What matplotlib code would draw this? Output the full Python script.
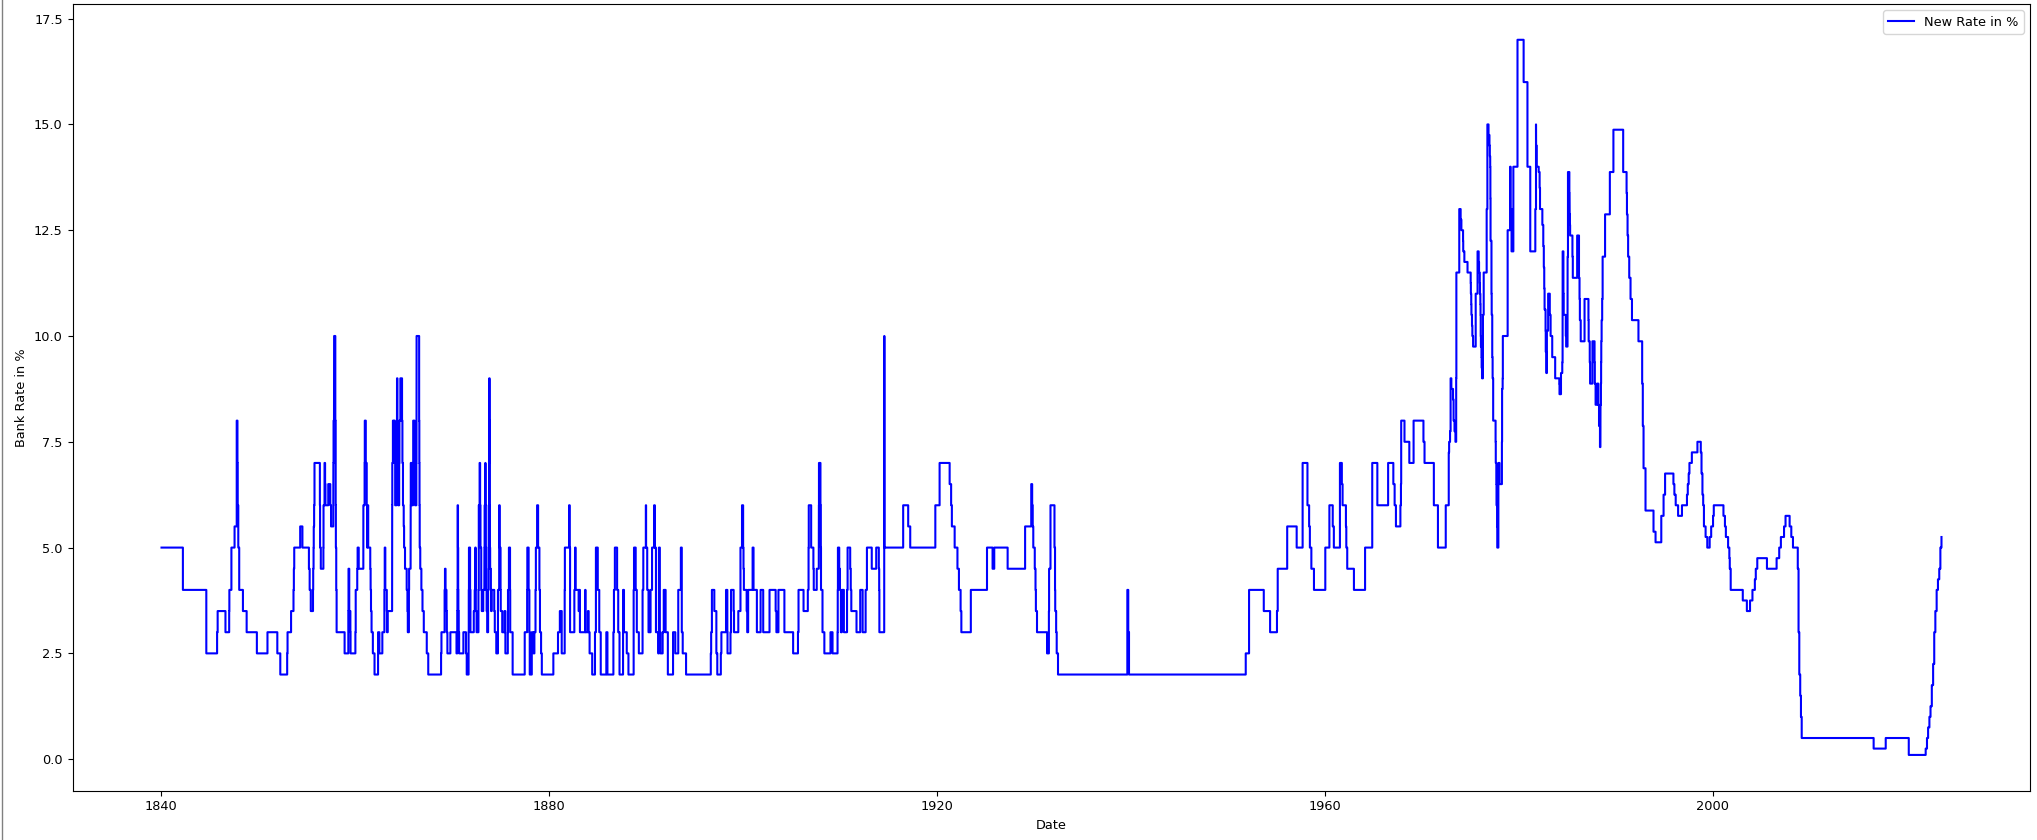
import pandas as pd
import matplotlib.pyplot as plt
import matplotlib.dates as mdates

# Bank rate changes (date of change, new rate in %)
dates_1840 = [
    "1840-01-23", "1842-04-07", "1844-09-05", "1845-10-16", "1845-11-06", "1846-08-27",
    "1847-01-14", "1847-01-21", "1847-04-08", "1847-08-05", "1847-10-25", "1847-11-22",
    "1847-12-02", "1847-12-23", "1848-01-27", "1848-06-15", "1848-11-02", "1849-11-22",
    "1850-12-26", "1852-01-01", "1852-04-22", "1853-01-06", "1853-01-20", "1853-06-02",
    "1853-09-01", "1853-09-15", "1853-09-29", "1854-05-11", "1854-08-03", "1855-04-05",
    "1855-05-03", "1855-06-14", "1855-09-06", "1855-09-13", "1855-09-27", "1855-10-04",
    "1855-10-18", "1855-11-01", "1856-05-22", "1856-05-29", "1856-06-26", "1856-10-01",
    "1856-10-06", "1856-11-13", "1856-12-04", "1856-12-18", "1857-04-02", "1857-06-18",
    "1857-07-16", "1857-10-08", "1857-10-12", "1857-10-19", "1857-11-05", "1857-11-09",
    "1857-12-24", "1858-01-07", "1858-01-14", "1858-01-28", "1858-02-11", "1858-12-09",
    "1859-04-28", "1859-05-05", "1859-06-02", "1859-07-14", "1859-07-21", "1860-01-19",
    "1860-01-31", "1860-03-29", "1860-04-12", "1860-05-24", "1860-11-13", "1860-11-15",
    "1860-12-31", "1861-01-07", "1861-02-14", "1861-03-21", "1861-04-04", "1861-04-11",
    "1861-05-16", "1861-08-01", "1861-08-15", "1861-08-29", "1861-09-19", "1861-11-07",
    "1862-01-09", "1862-05-22", "1862-07-10", "1862-10-30", "1863-01-15", "1863-01-28",
    "1863-02-19", "1863-04-16", "1863-04-23", "1863-05-21", "1863-11-02", "1863-11-05",
    "1863-11-09", "1863-12-02", "1863-12-24", "1864-01-20", "1864-02-11", "1864-02-25",
    "1864-04-16", "1864-05-02", "1864-05-05", "1864-05-19", "1864-05-26", "1864-06-16",
    "1864-07-25", "1864-08-04", "1864-09-08", "1864-11-10", "1864-11-24", "1864-12-15",
    "1865-01-12", "1865-01-26", "1865-03-02", "1865-05-04", "1865-06-01", "1865-06-15",
    "1865-07-27", "1865-08-03", "1865-09-28", "1865-10-02", "1865-10-05", "1865-11-23",
    "1865-12-28", "1866-01-04", "1866-02-22", "1866-03-15", "1866-05-03", "1866-05-08",
    "1866-05-11", "1866-05-12", "1866-08-16", "1866-08-23", "1866-08-30", "1866-09-06",
    "1866-09-27", "1866-11-08", "1866-12-20", "1867-02-07", "1867-05-30", "1867-07-25",
]
rates_1840 = [
    5, 4, 2.5, 3, 3.5, 3,
    3.5, 4, 5, 5.5, 8, 7,
    6, 5, 4, 3.5, 3, 2.5,
    3, 2.5, 2, 2.5, 3, 3.5,
    4, 4.5, 5, 5.5, 5, 4.5,
    4, 3.5, 4, 4.5, 5, 5.5,
    6, 7, 6, 5, 4.5, 5,
    6, 7, 6.5, 6, 6.5, 6,
    5.5, 6, 7, 8, 9, 10,
    8, 6, 5, 4, 3, 2.5,
    3.5, 4.5, 3.5, 3, 2.5, 3,
    4, 4.5, 5, 4.5, 5, 6,
    7, 8, 7, 6, 5, 6,
    5, 4.5, 4, 3.5, 3, 2.5,
    2, 3, 2.5, 3, 4, 5,
    4, 3.5, 3, 3.5, 5, 6,
    7, 8, 7, 8, 7, 6,
    7, 8, 9, 8, 7, 6,
    7, 8, 9, 8, 7, 6,
    5.5, 5, 4.5, 4, 3.5, 3,
    4, 4.5, 5, 6, 7, 6,
    7, 8, 7, 6, 7, 8,
    9, 10, 8, 7, 6, 5,
    4.5, 4, 3.5, 3, 2.5, 2,
]

dates_1868 = [
    "1868-11-19", "1868-12-03", "1869-04-01", "1869-04-15", "1869-05-06", "1869-06-10",
    "1869-06-24", "1869-07-15", "1869-11-04", "1870-06-23", "1870-07-21", "1870-07-28",
    "1870-08-04", "1870-08-18", "1870-08-25", "1870-09-01", "1870-09-15", "1870-09-29",
    "1871-03-09", "1871-06-15", "1871-07-13", "1871-09-21", "1871-09-28", "1871-10-05",
    "1871-11-16", "1871-11-30", "1872-04-04", "1872-05-09", "1872-05-30", "1872-06-13",
    "1872-06-20", "1872-07-18", "1872-09-26", "1872-10-09", "1872-11-09", "1872-11-28",
    "1872-12-12", "1873-01-09", "1873-01-30", "1873-03-26", "1873-05-07", "1873-05-10",
    "1873-05-17", "1873-06-12", "1873-06-19", "1873-07-03", "1873-07-10", "1873-07-17",
    "1873-07-31", "1873-08-21", "1873-09-25", "1873-10-13", "1873-10-18", "1873-11-01",
    "1873-11-07", "1873-11-20", "1873-11-27", "1873-12-04", "1873-12-11", "1874-01-08",
    "1874-01-15", "1874-02-06", "1874-05-14", "1874-06-04", "1874-07-30", "1874-10-01",
    "1874-11-16", "1874-12-03", "1875-01-07", "1875-01-14", "1875-03-11", "1875-06-03",
    "1875-07-08", "1875-10-07", "1875-10-14", "1875-11-18", "1875-12-30", "1876-01-06",
    "1876-04-06", "1877-07-05", "1877-10-04", "1877-10-11", "1877-11-29", "1877-12-27",
    "1878-01-10", "1878-03-28", "1878-05-30", "1878-07-04", "1878-08-15", "1878-08-29",
    "1878-10-14", "1878-11-21", "1879-01-09", "1879-01-30", "1879-03-13", "1879-04-10",
    "1880-06-17", "1880-12-09", "1881-02-17", "1881-04-28", "1881-08-18", "1881-08-25",
    "1881-10-06", "1882-01-30", "1882-02-23", "1882-03-09", "1882-08-17", "1882-09-14",
    "1882-10-02", "1883-01-25", "1883-02-15", "1883-03-15", "1883-09-27", "1883-10-11",
    "1884-01-10", "1884-02-07", "1884-03-13", "1884-06-19", "1884-10-02", "1884-11-06",
    "1885-01-15", "1885-03-12", "1885-05-07", "1885-12-03", "1886-01-14", "1886-08-26",
    "1886-09-16", "1886-10-21", "1887-01-13", "1887-02-24", "1887-04-14", "1887-08-25",
    "1887-09-29", "1888-01-12", "1888-03-15", "1888-09-27", "1888-10-11", "1888-12-13",
    "1889-01-24", "1889-04-11", "1889-08-29", "1889-09-26", "1889-12-30", "1890-01-09",
    "1890-02-20", "1890-04-10", "1890-06-26", "1890-08-21", "1890-11-07", "1890-12-04",
    "1891-01-15", "1891-04-09", "1891-05-07", "1891-06-11", "1891-07-02", "1891-09-24",
    "1891-11-05", "1892-01-14", "1892-04-07", "1892-10-20", "1893-01-12", "1893-05-04",
    "1893-08-10", "1893-09-14", "1893-10-19", "1894-02-22", "1896-09-10", "1896-09-24",
    "1896-10-22", "1897-01-21", "1897-04-08", "1897-05-13", "1897-09-23", "1897-10-14",
    "1898-04-07", "1898-05-26", "1898-06-02", "1898-09-22", "1898-10-13", "1899-01-19",
    "1899-02-02", "1899-07-13", "1899-10-03", "1899-11-30", "1900-01-11", "1900-01-25",
    "1900-02-08", "1900-05-24", "1900-06-14", "1900-07-19", "1901-01-03", "1901-02-07",
    "1901-06-13", "1901-10-31", "1902-02-06", "1902-10-02", "1903-05-21", "1903-06-18",
    "1903-09-03", "1904-04-14", "1905-03-09", "1905-09-07", "1905-09-28", "1906-04-05",
    "1906-09-13", "1906-10-11", "1906-10-19", "1907-01-17", "1907-04-11", "1907-04-25",
    "1907-08-15", "1907-10-31", "1907-11-04", "1907-11-07", "1908-01-02", "1908-01-16",
    "1908-01-23", "1908-03-19", "1908-05-28", "1909-01-14", "1909-04-01", "1909-10-07",
    "1909-10-14", "1909-10-21", "1909-12-09", "1910-01-06", "1910-02-10", "1910-03-17",
    "1910-06-02", "1910-09-29", "1910-10-20", "1911-01-26", "1911-02-16", "1911-03-09",
    "1911-09-21", "1912-02-08", "1912-05-09", "1912-08-29", "1912-10-17", "1913-04-17",
    "1913-10-02", "1914-01-08", "1914-01-22", "1914-01-29", "1914-07-30", "1914-07-31",
    "1914-08-01", "1914-08-06", "1914-08-08",
]
rates_1868 = [
    2.5, 3, 4, 4.5, 4, 3.5,
    3, 2.5, 3, 2.5, 3.5, 4,
    6, 5, 4, 3.5, 3, 2.5,
    3, 2.5, 2, 3, 4, 5,
    4, 3, 3.5, 4, 5, 4,
    3.5, 3, 4, 6, 7, 6,
    5, 4, 3.5, 4, 4.5, 5,
    6, 7, 6, 5, 4.5, 4,
    3.5, 3, 4, 5, 6, 7,
    9, 8, 6, 5, 4.5, 4,
    3.5, 4, 3.5, 3, 2.5, 4,
    6, 5, 4, 3.5, 3, 3.5,
    2.5, 3, 4, 5, 4, 3,
    2, 3, 4, 5, 4, 3,
    2, 3, 2.5, 3, 4, 5,
    6, 5, 4, 3, 2.5, 2,
    2.5, 3, 3.5, 2.5, 4, 5,
    5, 6, 5, 3, 4, 5,
    4, 3.5, 4, 3, 4, 3,
    3.5, 3, 2.5, 2, 3, 5,
    4, 3, 2, 3, 2, 3,
    4, 5, 4, 3, 2, 4,
    3, 2.5, 2, 4, 5, 4,
    3, 2.5, 4, 5, 6, 5,
    4, 3, 4, 5, 6, 5,
    3, 2.5, 5, 3, 2.5, 3,
    4, 3, 2, 3, 2.5, 4,
    5, 3, 2.5, 2, 2.5, 3,
    4, 3.5, 2.5, 2, 2.5, 3,
    4, 3, 2.5, 3, 4, 3.5,
    3, 3.5, 5, 6, 5, 4.5,
    4, 3.5, 3, 4, 5, 4,
    3, 4, 3, 4, 3.5, 3,
    4, 3, 2.5, 3, 4, 3.5,
    4, 5, 6, 5, 4.5, 4,
    4.5, 5.5, 6, 7, 6, 5,
    4, 3, 2.5, 3, 2.5, 3,
    4, 5, 4.5, 4, 3, 4,
    3, 4, 5, 4.5, 4, 3.5,
    3, 4, 3, 4, 5, 4.5,
    5, 4.5, 4, 3, 4, 8,
    10, 6, 5,
]

dates_1916 = [
    "1916-07-13", "1917-01-18", "1917-04-05", "1919-11-06", "1920-04-15", "1921-04-28",
    "1921-06-23", "1921-07-21", "1921-11-03", "1922-02-16", "1922-04-13", "1922-06-15",
    "1922-07-13", "1923-07-05", "1925-03-05", "1925-10-01", "1925-12-03", "1927-04-21",
    "1929-02-07", "1929-09-26", "1929-10-31", "1929-11-21", "1929-12-12", "1930-02-06",
    "1930-03-06", "1930-03-20", "1930-05-01", "1931-05-14", "1931-07-23", "1931-07-30",
    "1931-09-21", "1932-02-18", "1932-03-10", "1932-03-17", "1932-04-21", "1932-05-12",
    "1932-06-30", "1939-08-24", "1939-09-28", "1939-10-26", "1951-11-08", "1952-03-12",
    "1953-09-17", "1954-05-13", "1955-01-27", "1955-02-24", "1956-02-16", "1957-02-07",
    "1957-09-19", "1958-03-20", "1958-05-22", "1958-06-19", "1958-08-14", "1958-11-20",
    "1960-01-21", "1960-06-23", "1960-10-27", "1960-12-08", "1961-07-25", "1961-10-05",
    "1961-11-02", "1962-03-08", "1962-03-22", "1962-04-26", "1963-01-03", "1964-02-27",
    "1964-11-23", "1965-06-03", "1966-07-14", "1967-01-26", "1967-03-16", "1967-05-04",
    "1967-10-19", "1967-11-09", "1967-11-18", "1968-03-21", "1968-09-19", "1969-02-27",
    "1970-03-05", "1970-04-15", "1971-04-01", "1971-09-02", "1972-06-22", "1972-10-13",
    "1972-10-27", "1972-12-01", "1972-12-22", "1973-01-19", "1973-03-23", "1973-04-13",
    "1973-05-18", "1973-06-22", "1973-07-20", "1973-07-27", "1973-11-13", "1974-01-04",
    "1974-02-01", "1974-04-05", "1974-04-11", "1974-05-24", "1974-09-20", "1975-01-17",
    "1975-01-24", "1975-02-07", "1975-02-14", "1975-03-07", "1975-03-21", "1975-04-18",
    "1975-07-25", "1975-10-03", "1975-11-14", "1975-11-28", "1975-12-26", "1976-01-02",
    "1976-01-16", "1976-01-23", "1976-01-30", "1976-02-06", "1976-02-27", "1976-03-05",
    "1976-03-19", "1976-04-23", "1976-05-21", "1976-09-10", "1976-10-07", "1976-11-19",
    "1976-12-24", "1977-01-07", "1977-01-21", "1977-01-28", "1977-02-03", "1977-03-10",
    "1977-03-18", "1977-04-08", "1977-04-22", "1977-05-13", "1977-08-12", "1977-08-19",
    "1977-09-09", "1977-09-16", "1977-10-07", "1977-10-14", "1977-11-25", "1978-01-06",
    "1978-04-07", "1978-04-14", "1978-05-05", "1978-05-12", "1978-11-09", "1979-02-08",
    "1979-03-01", "1979-04-05", "1979-06-12", "1979-11-15", "1980-07-03", "1980-11-24",
    "1981-03-10", "1981-09-16", "1981-10-12", "1981-10-14", "1981-11-09", "1982-01-22",
    "1982-02-25", "1982-03-12", "1982-06-08", "1982-07-13", "1982-08-02", "1982-08-18",
    "1982-08-31", "1982-10-07", "1982-10-14", "1982-11-04", "1982-11-26", "1983-01-12",
    "1983-03-15", "1983-04-15", "1983-06-15", "1983-10-04", "1984-03-07", "1984-03-15",
    "1984-05-10", "1984-06-27", "1984-07-09", "1984-07-12", "1984-08-09", "1984-08-10",
    "1984-08-20", "1984-11-07", "1984-11-20", "1985-01-11", "1985-01-14", "1985-01-28",
    "1985-03-21", "1985-03-29", "1985-04-02", "1985-04-12", "1985-04-19", "1985-07-15",
    "1985-07-29", "1986-01-09", "1986-03-19", "1986-04-08", "1986-04-21", "1986-05-23",
    "1986-10-14", "1987-03-10", "1987-03-18", "1987-04-28", "1987-05-11", "1987-08-07",
    "1987-10-26", "1987-11-05", "1987-12-04", "1988-02-02", "1988-03-17", "1988-04-11",
    "1988-05-17", "1988-06-02", "1988-06-06", "1988-06-22", "1988-06-29", "1988-07-05",
    "1988-07-18", "1988-08-08", "1988-08-25", "1988-11-25", "1989-05-24", "1989-10-05",
    "1990-10-08", "1991-02-13", "1991-02-27", "1991-03-22", "1991-04-12", "1991-05-24",
    "1991-07-12", "1991-09-04", "1992-05-05", "1992-09-22",
    "1992-10-16", "1992-11-13", "1993-01-26", "1993-11-23", "1994-02-08", "1994-09-12",
    "1994-12-07", "1995-02-02", "1995-12-13", "1996-01-18", "1996-03-08", "1996-06-06",
    "1996-10-30", "1997-05-06", "1997-06-06", "1997-07-10", "1997-08-07", "1997-11-06",
    "1998-06-04", "1998-10-08", "1998-11-05", "1998-12-10", "1999-01-07", "1999-02-04",
    "1999-04-08", "1999-06-10", "1999-09-08", "1999-11-04", "2000-01-13", "2000-02-10",
    "2001-02-08", "2001-04-05", "2001-05-10", "2001-08-02", "2001-09-18", "2001-10-04",
    "2001-11-08", "2003-02-06", "2003-07-10", "2003-11-06", "2004-02-05", "2004-05-06",
    "2004-06-10", "2004-08-05", "2005-08-04", "2006-08-03", "2006-11-09", "2007-01-11",
    "2007-05-10", "2007-07-05", "2007-12-06", "2008-02-07", "2008-04-10", "2008-10-08",
    "2008-11-06", "2008-12-04", "2009-01-08", "2009-02-05", "2009-03-05", "2016-08-04",
    "2017-11-02", "2020-03-19", "2021-12-16", "2022-02-03", "2022-03-17", "2022-05-05",
    "2022-06-16", "2022-08-04", "2022-09-22", "2022-11-03", "2022-12-15", "2023-02-02",
    "2023-03-23", "2023-05-11", "2023-06-22", "2023-08-03",
]
rates_1916 = [
    6, 5.5, 5, 6, 7, 6.5,
    6, 5.5, 5, 4.5, 4, 3.5,
    3, 4, 5, 4.5, 5, 4.5,
    5.5, 6.5, 6, 5.5, 5, 4.5,
    4, 3.5, 3, 2.5, 3.5, 4.5,
    6, 5, 4, 3.5, 3, 2.5,
    2, 4, 3, 2, 2.5, 4,
    3.5, 3, 3.5, 4.5, 5.5, 5,
    7, 6, 5.5, 5, 4.5, 4,
    5, 6, 5.5, 5, 7, 6.5,
    6, 5.5, 5, 4.5, 4, 5,
    7, 6, 7, 6.5, 6, 5.5,
    6, 6.5, 8, 7.5, 7, 8,
    7.5, 7, 6, 5, 6, 7.25,
    7.5, 7.75, 9, 8.75, 8.5, 8,
    7.75, 7.5, 9, 11.5, 13, 12.75,
    12.5, 12.25, 12, 11.75, 11.5, 11.25,
    11, 10.75, 10.5, 10.25, 10, 9.75,
    11, 12, 11.75, 11.5, 11.25, 11,
    10.75, 10.5, 10, 9.75, 9.5, 9.25,
    9, 10.5, 11.5, 13, 15, 14.75,
    14.5, 14.25, 14, 13.25, 12.25, 11,
    10.5, 9.5, 9, 8, 7.5, 7,
    6.5, 6, 5.5, 5, 7, 6.5,
    7.5, 8.75, 9, 10, 12.5, 14,
    13, 12, 14, 17, 16, 14,
    12, 13, 15, 14.5, 14, 13.875,
    13.5, 13, 12.625, 12.125, 11.625, 11.125,
    10.625, 10.125, 9.625, 9.125, 10.125, 11,
    10.5, 10, 9.5, 9, 8.875, 8.625,
    9.125, 9.375, 10, 12, 11.5, 11,
    10.5, 10, 9.75, 10.375, 11.875, 13.875,
    13.375, 13.125, 12.875, 12.625, 12.375, 11.875,
    11.375, 12.375, 11.375, 10.875, 10.375, 9.875,
    10.875, 10.375, 9.875, 9.375, 8.875, 9.875,
    9.375, 8.875, 8.375, 8.875, 8.375, 7.875,
    7.375, 7.875, 8.375, 8.875, 9.375, 9.875,
    10.375, 10.875, 11.875, 12.875, 13.875, 14.875,
    13.875, 13.375, 12.875, 12.375, 11.875, 11.375,
    10.875, 10.375, 9.875, 8.875,
    7.875, 6.875, 5.875, 5.375, 5.125, 5.75,
    6.25, 6.75, 6.5, 6.25, 6, 5.75,
    6, 6.25, 6.5, 6.75, 7, 7.25,
    7.5, 7.25, 6.75, 6.25, 6, 5.5,
    5.25, 5, 5.25, 5.5, 5.75, 6,
    5.75, 5.5, 5.25, 5, 4.75, 4.5,
    4, 3.75, 3.5, 3.75, 4, 4.25,
    4.5, 4.75, 4.5, 4.75, 5, 5.25,
    5.5, 5.75, 5.5, 5.25, 5, 4.5,
    3, 2, 1.5, 1, 0.5, 0.25,
    0.5, 0.1, 0.25, 0.5, 0.75, 1,
    1.25, 1.75, 2.25, 3, 3.5, 4,
    4.25, 4.5, 5, 5.25,
]

df = pd.DataFrame({
    "Date": pd.to_datetime(dates_1840 + dates_1868 + dates_1916),
    "New Rate in %": rates_1840 + rates_1868 + rates_1916,
})

fig = plt.figure(figsize=(20.37, 8.4), dpi=100)
ax = fig.add_axes([0.0356, 0.0587, 0.9612, 0.9365])
ax.plot(df["Date"], df["New Rate in %"], color="blue", linewidth=1.5,
        drawstyle="steps-post", label="New Rate in %")

ax.xaxis.set_major_locator(mdates.YearLocator(40))
ax.xaxis.set_major_formatter(mdates.DateFormatter("%Y"))
ax.tick_params(labelsize=9.3)
ax.set_xlabel("Date", fontsize=9.3)
ax.set_ylabel("Bank Rate in %", fontsize=9.3)
ax.legend(loc="upper right", fontsize=9.3)

# thin frame line on the left edge of the screenshot
fig.add_artist(plt.Line2D([0.0008, 0.0008], [0, 1], color="gray", linewidth=1))

fig.savefig("out.png", dpi=100)
